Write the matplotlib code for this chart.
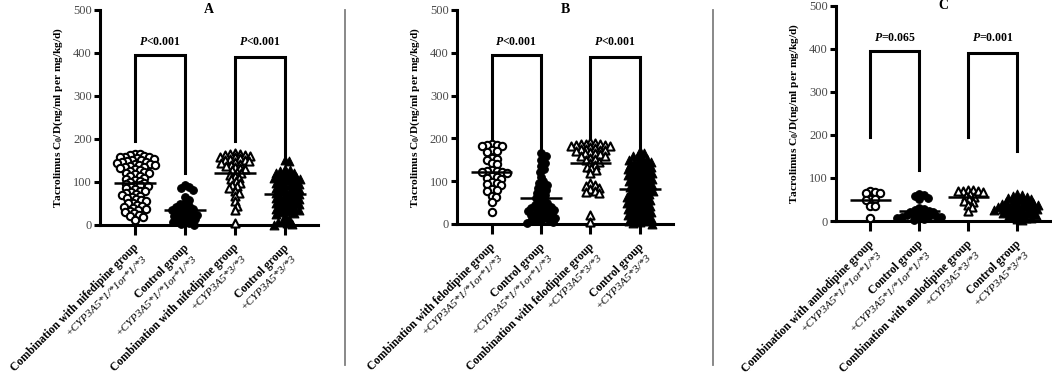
import numpy as np
import matplotlib
matplotlib.use("Agg")
import matplotlib.pyplot as plt
from matplotlib.lines import Line2D

plt.rcParams['font.family'] = ['Liberation Serif', 'DejaVu Serif']
plt.rcParams['mathtext.fontset'] = 'custom'
plt.rcParams['mathtext.rm'] = 'Liberation Serif'
plt.rcParams['mathtext.it'] = 'Liberation Serif:italic'
plt.rcParams['mathtext.bf'] = 'Liberation Serif:bold'
plt.rcParams['mathtext.bfit'] = 'Liberation Serif:italic:bold'

# ---- data ----
panel_titles = ['A', 'B', 'C']
drugs = ['nifedipine', 'felodipine', 'amlodipine']
genotype_labels = ['+CYP3A5*1/*1or*1/*3', '+CYP3A5*1/*1or*1/*3', '+CYP3A5*3/*3', '+CYP3A5*3/*3']
p_labels = [['<0.001', '<0.001'], ['<0.001', '<0.001'], ['=0.065', '=0.001']]

# bracket: top, left-leg bottom, right-leg bottom
bracket_tops = [[395, 390], [395, 390], [395, 390]]
bracket_left = [[195, 195], [195, 195], [195, 195]]
bracket_right = [[120, 155], [168, 170], [118, 163]]

a_nif_1 = [165, 164, 162, 160, 159, 158, 157, 155, 153, 152, 150, 148, 147, 146, 145, 143, 141, 140,
           139, 138, 136, 135, 133, 130, 128, 126, 124, 122, 120, 118, 115, 113, 110, 108, 105, 103,
           100, 98, 96, 94, 92, 90, 88, 85, 83, 80, 78, 76, 74, 72, 70, 68, 65, 62, 60, 57, 55, 52,
           50, 47, 45, 42, 40, 37, 35, 32, 30, 27, 24, 21, 18, 12]
a_ctl_1 = [92, 88, 86, 82, 65, 58, 52, 48, 45, 42, 40, 38, 35, 32, 30, 28, 26, 24, 22, 20, 18, 16,
           14, 12, 10, 8, 5, 3, 1]
a_nif_3 = [168, 166, 165, 163, 162, 160, 158, 157, 155, 153, 152, 150, 148, 146, 145, 143, 140, 138,
           135, 132, 130, 127, 124, 120, 117, 114, 110, 106, 102, 98, 94, 90, 85, 80, 74, 68, 55, 45,
           35, 5]
a_ctl_3 = [152, 148, 130, 128, 125, 122, 120, 118, 116, 114, 112, 110, 108, 106, 104, 102, 100, 98,
           96, 94, 92, 90, 88, 86, 84, 82, 80, 78, 76, 74, 72, 70, 68, 66, 64, 62, 60, 58, 56, 54,
           52, 50, 48, 46, 44, 42, 40, 38, 36, 34, 32, 30, 28, 25, 20, 15, 10, 8, 5, 3, 0]

b_fel_1 = [186, 185, 184, 183, 182, 172, 170, 168, 155, 152, 150, 142, 140, 125, 124, 123, 122, 121,
           120, 112, 110, 108, 106, 97, 95, 93, 91, 82, 80, 78, 66, 62, 52, 28]
b_ctl_1 = [165, 160, 150, 142, 136, 128, 122, 110, 100, 96, 92, 88, 84, 80, 76, 72, 68, 64, 60, 56,
           52, 48, 45, 42, 40, 38, 36, 34, 32, 30, 28, 26, 24, 22, 20, 18, 16, 14, 12, 10, 8, 6, 4, 2]
b_fel_3 = [192, 190, 188, 187, 186, 185, 184, 183, 182, 180, 178, 176, 175, 174, 172, 170, 168, 166,
           165, 163, 160, 158, 155, 152, 150, 146, 142, 138, 134, 130, 125, 118, 95, 92, 88, 85, 82,
           78, 75, 72, 22, 5]
b_ctl_3 = [170, 165, 160, 158, 155, 152, 150, 148, 146, 144, 142, 140, 138, 136, 134, 132, 130, 128,
           126, 124, 122, 120, 118, 116, 114, 112, 110, 108, 106, 104, 102, 100, 98, 96, 94, 92, 90,
           88, 86, 84, 82, 80, 78, 76, 74, 72, 70, 68, 66, 64, 62, 60, 58, 56, 54, 52, 50, 48, 46,
           44, 42, 40, 38, 36, 34, 32, 30, 28, 26, 24, 22, 20, 18, 16, 14, 12, 10, 8, 6, 4, 2, 0]

c_aml_1 = [70, 68, 66, 64, 52, 50, 48, 36, 34, 8]
c_ctl_1 = [63, 60, 57, 54, 50, 30, 28, 26, 24, 22, 20, 18, 16, 15, 14, 12, 11, 10, 9, 8, 6, 5, 3]
c_aml_3 = [72, 71, 70, 70, 69, 68, 62, 58, 55, 50, 47, 44, 38, 32, 24]
c_ctl_3 = [62, 60, 58, 56, 54, 52, 50, 48, 46, 45, 44, 42, 40, 39, 38, 36, 35, 34, 33, 32, 30, 29,
           28, 27, 26, 25, 24, 22, 20, 19, 18, 16, 15, 14, 12, 10, 8, 6, 4, 2]

panel_data = [[a_nif_1, a_ctl_1, a_nif_3, a_ctl_3],
              [b_fel_1, b_ctl_1, b_fel_3, b_ctl_3],
              [c_aml_1, c_ctl_1, c_aml_3, c_ctl_3]]

# marker style per group: open circle, filled circle, open triangle, filled triangle
markers = ['o', 'o', '^', '^']
filled = [False, True, False, True]

# axes boxes in figure fraction [left, bottom, width, height]
boxes = [[0.0951, 0.3968, 0.2072, 0.5764],
         [0.4344, 0.3995, 0.2053, 0.5737],
         [0.7947, 0.4075, 0.2033, 0.5765]]

fig = plt.figure(figsize=(10.52, 3.73), dpi=100)


def swarm_offsets(vals, xpx, ypx, d=4.7):
    # simple beeswarm in pixel space
    order = np.argsort(vals)[::-1]
    placed = []
    offs = np.zeros(len(vals))
    for idx in order:
        y = vals[idx] * ypx
        k = 0
        while True:
            found = None
            for sgn in (1, -1):
                x = sgn * k * 0.5
                if all((x - px) ** 2 + (y - py) ** 2 >= d * d for px, py in placed):
                    found = x
                    break
            if found is not None:
                break
            k += 1
        placed.append((found, y))
        offs[idx] = found / xpx
    return offs


for p in range(3):
    ax = fig.add_axes(boxes[p])
    ax.set_xlim(-0.7, 3.67)
    ax.set_ylim(0, 500)
    bw, bh = boxes[p][2] * 1052, boxes[p][3] * 373
    xpx = bw / 4.37
    ypx = bh / 500

    for g in range(4):
        vals = np.array(panel_data[p][g], dtype=float)
        xs = g + swarm_offsets(vals, xpx, ypx)
        if filled[g]:
            ax.scatter(xs, vals, s=30 if markers[g] == 'o' else 40, marker=markers[g],
                       facecolor='black', edgecolor='black', linewidth=0.8, zorder=3, clip_on=False)
        else:
            ax.scatter(xs, vals, s=28 if markers[g] == 'o' else 34, marker=markers[g],
                       facecolor='white', edgecolor='black', linewidth=1.5, zorder=3, clip_on=False)
        ax.hlines(vals.mean(), g - 0.42, g + 0.42, color='black', lw=1.8, zorder=4)

    # significance brackets
    for b in range(2):
        x1, x2 = 2 * b, 2 * b + 1
        top = bracket_tops[p][b]
        ax.plot([x1, x1, x2, x2], [bracket_left[p][b], top, top, bracket_right[p][b]],
                color='black', lw=2.2, solid_joinstyle='miter')
        ax.text((x1 + x2) / 2, 425, r'$\mathbfit{P}$' + p_labels[p][b], ha='center', va='center',
                fontsize=8.5, fontweight='bold')

    ax.text(0.5, 1.0, panel_titles[p], transform=ax.transAxes, ha='center', va='center',
            fontsize=10, fontweight='bold')

    for s in ['top', 'right']:
        ax.spines[s].set_visible(False)
    for s in ['left', 'bottom']:
        ax.spines[s].set_linewidth(2.2)
    ax.set_yticks([0, 100, 200, 300, 400, 500])
    ax.tick_params(axis='y', length=4, width=2.2, labelsize=9, labelcolor='#4a4a4a', pad=2)
    ax.set_xticks([0, 1, 2, 3])
    ax.set_xticklabels([])
    ax.tick_params(axis='x', length=7, width=2.2)
    ax.set_ylabel(r'Tacrolimus C$_\mathbf{0}$/D(ng/ml per mg/kg/d)', fontsize=8.2,
                  fontweight='bold', labelpad=6)

    group_names = ['Combination with %s group' % drugs[p], 'Control group',
                   'Combination with %s group' % drugs[p], 'Control group']
    for g in range(4):
        ax.annotate(group_names[g], xy=(g, 0), xycoords=('data', 'axes fraction'),
                    xytext=(-1.5, -12), textcoords='offset points', rotation=45,
                    rotation_mode='anchor', ha='right', va='top', fontsize=8.4, fontweight='bold')
        ax.annotate(genotype_labels[g], xy=(g, 0), xycoords=('data', 'axes fraction'),
                    xytext=(5, -20.5), textcoords='offset points', rotation=45,
                    rotation_mode='anchor', ha='right', va='top', fontsize=8.2, fontstyle='italic')

# grey separators between panels
for xf in [345 / 1052, 713 / 1052]:
    fig.add_artist(Line2D([xf, xf], [1 - 365 / 373, 1 - 10 / 373], transform=fig.transFigure,
                          color='#7f7f7f', lw=1.3))

fig.savefig('out.png', dpi=100)
